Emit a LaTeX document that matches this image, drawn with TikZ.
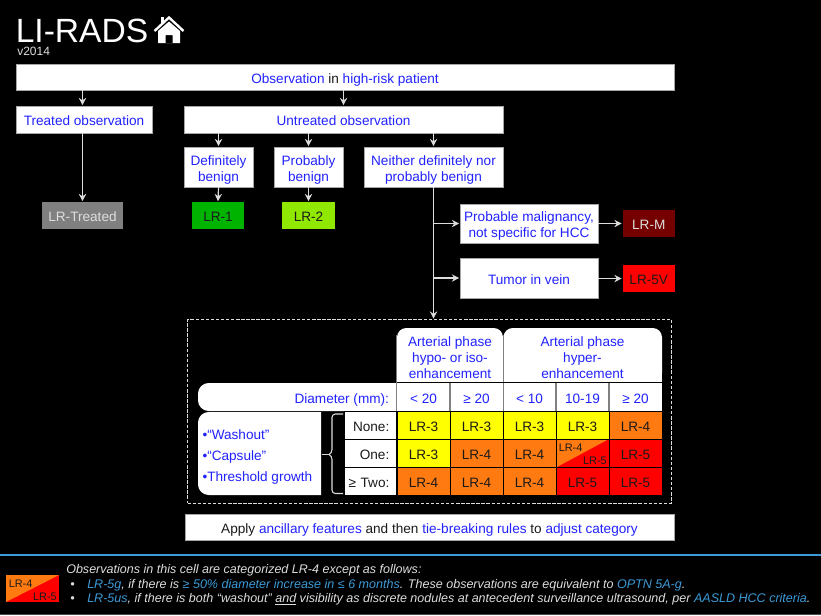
\documentclass[tikz,border=0pt]{standalone}
\usepackage{fontspec}
\setmainfont{Liberation Sans}
\usetikzlibrary{arrows.meta}
\definecolor{bluetxt}{HTML}{2222FF}
\definecolor{cyantxt}{HTML}{3C9BD8}
\definecolor{inktxt}{HTML}{1A1A1A}
\definecolor{lrgray}{HTML}{808080}
\definecolor{lrgreen}{HTML}{00B300}
\definecolor{lrlime}{HTML}{90E800}
\definecolor{lrdark}{HTML}{750000}
\definecolor{lryellow}{HTML}{FFFF00}
\definecolor{lrorange}{HTML}{FF7A10}
\definecolor{lrred}{HTML}{FF0000}
\definecolor{linegray}{HTML}{DDDDDD}
\newcommand{\bl}[1]{\textcolor{bluetxt}{#1}}
\newcommand{\cy}[1]{\textcolor{cyantxt}{#1}}
% \bx[style]{name}{x0}{y0}{x1}{y1}{text}
\newcommand{\bx}[7][]{\node[boxbase,#1,minimum width={(#5-#3)*0.75pt},minimum height={(#6-#4)*0.75pt}] (#2x) at ({(#3+#5)/2},{(#4+#6)/2}) {#7};}
\tikzset{
  boxbase/.style={rectangle,inner sep=0pt,outer sep=0pt,align=center,font=\fontsize{10.2}{12}\selectfont,
    execute at begin node={\rule{0pt}{11.5pt}},execute at end node={\rule[-2pt]{0pt}{2pt}}},
  whitebox/.style={fill=white,draw=gray!70,line width=0.4pt,text=bluetxt},
  multitext/.style={boxbase,text=bluetxt,yshift=-1.9pt},
  catbox/.style={draw=none,text=inktxt},
  tablecell/.style={draw=black,line width=0.6pt,text=inktxt},
  headcell/.style={fill=white,text=bluetxt},
  rowlabel/.style={fill=white,draw=black,line width=0.6pt,text=inktxt,align=right,text width=39pt},
  conn/.style={draw=linegray,line width=0.9pt,-{Stealth[length=5.5pt,width=5.5pt]},shorten >=0.6pt},
  plainconn/.style={draw=linegray,line width=0.8pt},
  sepline/.style={draw=gray,line width=0.9pt},
  smalllr/.style={font=\fontsize{8.2}{9}\selectfont,text=inktxt,inner sep=0pt},
  foot/.style={font=\fontsize{9.4}{10}\selectfont\itshape,text=linegray,anchor=base west,inner sep=0pt},
}
\begin{document}
\begin{tikzpicture}[x=0.75pt,y=-0.75pt]
\fill[black] (0,0) rectangle (821,615);
\useasboundingbox (0,0) rectangle (821,615);
% title
\node[anchor=base west,inner sep=0pt,text=white,font=\fontsize{25.2}{25}\selectfont] (title) at (15.5,42) {LI-RADS};
\node[anchor=base west,inner sep=0pt,text=linegray,font=\fontsize{9}{9}\selectfont] (version) at (17,55) {v2014};
% house
\draw[white,line width=1.8pt,miter limit=4] (154.5,31) -- (169,17.5) -- (183.5,31);
\fill[white] (161,16.5) rectangle (164,24);
\fill[white,even odd rule] (158,31) -- (169,21.5) -- (180,31) -- (180,43) -- (158,43) -- cycle (165.7,35) rectangle (172.7,43);
% flow boxes
\bx[whitebox]{top}{16}{64}{674}{90}{\bl{Observation} {\color{inktxt}in} \bl{high-risk patient}}
\bx[whitebox]{treated}{16}{106}{152}{133}{\bl{Treated observation}}
\bx[whitebox]{untreated}{184}{106}{503}{133}{\bl{Untreated observation}}
\bx[whitebox]{defin}{184}{147}{253}{187}{}
\node[multitext] (defint) at (definx) {Definitely\\benign};
\bx[whitebox]{prob}{274}{147}{343}{187}{}
\node[multitext] (probt) at (probx) {Probably\\benign};
\bx[whitebox]{neither}{364}{147}{503}{187}{}
\node[multitext] (neithert) at (neitherx) {Neither definitely nor\\probably benign};
\bx[whitebox]{malig}{460}{204}{598}{243}{}
\node[multitext] (maligt) at (maligx) {Probable malignancy,\\not specific for HCC};
\bx[whitebox]{vein}{460}{258}{598}{298}{Tumor in vein}
\bx[catbox,fill=lrgray,text=linegray]{lrt}{42}{202}{123}{229}{LR-Treated}
\bx[catbox,fill=lrgreen]{lra}{192}{202}{244}{229}{LR-1}
\bx[catbox,fill=lrlime]{lrb}{282}{202}{335}{229}{LR-2}
\bx[catbox,fill=lrdark,text=linegray]{lrm}{622.5}{210}{675}{237}{LR-M}
\bx[catbox,fill=lrred]{lrv}{622.5}{265}{675}{292}{LR-5V}
% dashed frame
\node[rectangle,draw=linegray,dash pattern=on 2.6pt off 1.2pt,line width=0.7pt,inner sep=0pt,outer sep=0pt,minimum width={484*0.75pt},minimum height={183.5*0.75pt}] (framex) at (429.5,411.25) {};
% connectors
\draw[conn] (topx.south -| lrtx.north) -- (treatedx.north -| lrtx.north);
\draw[conn] (topx.south -| untreatedx.north) -- (untreatedx.north);
\draw[conn] (untreatedx.south -| definx.north) -- (definx.north);
\draw[conn] (untreatedx.south -| probx.north) -- (probx.north);
\draw[conn] (untreatedx.south -| neitherx.north) -- (neitherx.north);
\draw[conn] (treatedx.south -| lrtx.north) -- (lrtx.north);
\draw[conn] (definx.south) -- (lrax.north);
\draw[conn] (probx.south -| lrbx.north) -- (lrbx.north);
\draw[conn] (neitherx.south) -- (neitherx.south |- framex.north);
\coordinate (branchm) at (neitherx.south |- maligx.west);
\coordinate (branchv) at (neitherx.south |- veinx.west);
\draw[conn] (branchm) -- (maligx.west);
\draw[conn] (branchv) -- (veinx.west);
\draw[conn] (maligx.east |- lrmx.west) -- (lrmx.west);
\draw[conn] (veinx.east |- lrvx.west) -- (lrvx.west);
% table headers
\fill[white,rounded corners=7pt] (397,383) -- (397,328) -- (503,328) -- (503,383) -- cycle;
\fill[white,rounded corners=7pt] (503.5,383) -- (503.5,328) -- (662,328) -- (662,383) -- cycle;
\fill[white] (397,360) rectangle (662,383);
\node[boxbase,text=bluetxt] (hypo) at (450,358.5) {Arterial phase\\hypo- or iso-\\enhancement};
\node[boxbase,text=bluetxt] (hyper) at (582.5,358.5) {Arterial phase\\hyper-\\enhancement};
% diameter row
\fill[white] (396,383) {[rounded corners=8pt] -- (198,383) -- (198,411)} -- (396,411) -- cycle;
\node[boxbase,text=bluetxt,anchor=east] (diam) at (389,397) {Diameter (mm):};
\bx[headcell]{h1}{397}{383}{450}{411}{< 20}
\bx[headcell]{h2}{450}{383}{503}{411}{≥ 20}
\bx[headcell]{h3}{503}{383}{556}{411}{< 10}
\bx[headcell]{h4}{556}{383}{609}{411}{10-19}
\bx[headcell]{h5}{609}{383}{662}{411}{≥ 20}
\draw[sepline] (396.5,335) -- (396.5,411);
\draw[sepline] (503.2,335) -- (503.2,411);
\draw[sepline] (450,383) -- (450,411);
\draw[sepline] (556,383) -- (556,411);
\draw[sepline] (609,383) -- (609,411);
\draw[black,line width=0.6pt] (397,382.5) -- (662,382.5);
% features panel
\fill[white] (321,412) {[rounded corners=8pt] -- (198,412) -- (198,495)} -- (321,495) -- cycle;
\node[boxbase,text=bluetxt,anchor=west,align=left,font=\fontsize{10.2}{15.75}\selectfont] (feat) at (202.5,456.5) {•“Washout”\\•“Capsule”\\•Threshold growth};
% brace
\draw[plainconn,rounded corners=2.5pt] (343,414) -- (332,414) -- (332,453) -- (329,454.5);
\draw[plainconn,rounded corners=2.5pt] (343,493.5) -- (332,493.5) -- (332,456) -- (329,454.5);
\draw[plainconn] (322,454.5) -- (330,454.5);
% rows
\bx[rowlabel]{r1}{344}{411}{396}{439}{None:\kern5pt}
\bx[rowlabel]{r2}{344}{439}{396}{467.5}{One:\kern5pt}
\bx[rowlabel]{r3}{344}{467.5}{396}{495}{≥ Two:\kern5pt}
\bx[tablecell,fill=lryellow]{c11}{397}{411}{450}{439}{LR-3}
\bx[tablecell,fill=lryellow]{c12}{450}{411}{503}{439}{LR-3}
\bx[tablecell,fill=lryellow]{c13}{503}{411}{556}{439}{LR-3}
\bx[tablecell,fill=lryellow]{c14}{556}{411}{609}{439}{LR-3}
\bx[tablecell,fill=lrorange]{c15}{609}{411}{662}{439}{LR-4}
\bx[tablecell,fill=lryellow]{c21}{397}{439}{450}{467.5}{LR-3}
\bx[tablecell,fill=lrorange]{c22}{450}{439}{503}{467.5}{LR-4}
\bx[tablecell,fill=lrorange]{c23}{503}{439}{556}{467.5}{LR-4}
\bx[tablecell,fill=lrred]{c24}{556}{439}{609}{467.5}{}
\fill[lrorange] (c24x.north west) -- (c24x.north east) -- (c24x.south west) -- cycle;
\draw[black,line width=0.6pt] (c24x.north west) rectangle (c24x.south east);
\node[smalllr,anchor=base west] (c24a) at (558.5,451) {LR-4};
\node[smalllr,anchor=base east] (c24b) at (607,464.5) {LR-5};
\bx[tablecell,fill=lrred]{c25}{609}{439}{662}{467.5}{LR-5}
\bx[tablecell,fill=lrorange]{c31}{397}{467.5}{450}{495}{LR-4}
\bx[tablecell,fill=lrorange]{c32}{450}{467.5}{503}{495}{LR-4}
\bx[tablecell,fill=lrorange]{c33}{503}{467.5}{556}{495}{LR-4}
\bx[tablecell,fill=lrred]{c34}{556}{467.5}{609}{495}{LR-5}
\bx[tablecell,fill=lrred]{c35}{609}{467.5}{662}{495}{LR-5}
% bottom box
\bx[whitebox,text=inktxt]{apply}{185}{514}{674}{540}{Apply \bl{ancillary features} and then \bl{tie-breaking rules} to \bl{adjust category}}
% footer
\draw[cyantxt,line width=0.8pt] (0,555) -- (821,555);
\draw[gray!60!black,line width=0.6pt] (0,614.3) -- (821,614.3);
\fill[lrred] (6,575) rectangle (59,602);
\fill[lrorange] (6,575) -- (59,575) -- (6,602) -- cycle;
\node[smalllr,anchor=base west] (lega) at (8.5,587) {LR-4};
\node[smalllr,anchor=base east] (legb) at (57,600) {LR-5};
\node[foot] (f1) at (66,573) {Observations in this cell are categorized LR-4 except as follows:};
\node[foot] (b2) at (70,588) {•};
\node[foot] (f2) at (87,588) {\cy{LR-5g}, if there is \cy{≥ 50\% diameter increase in ≤ 6 months}. These observations are equivalent to \cy{OPTN 5A-g}.};
\node[foot] (b3) at (70,602.5) {•};
\node[foot] (f3) at (87,602.5) {\cy{LR-5us}, if there is both “washout” \underline{and} visibility as discrete nodules at antecedent surveillance ultrasound, per \cy{AASLD HCC criteria}.};
\end{tikzpicture}
\end{document}
